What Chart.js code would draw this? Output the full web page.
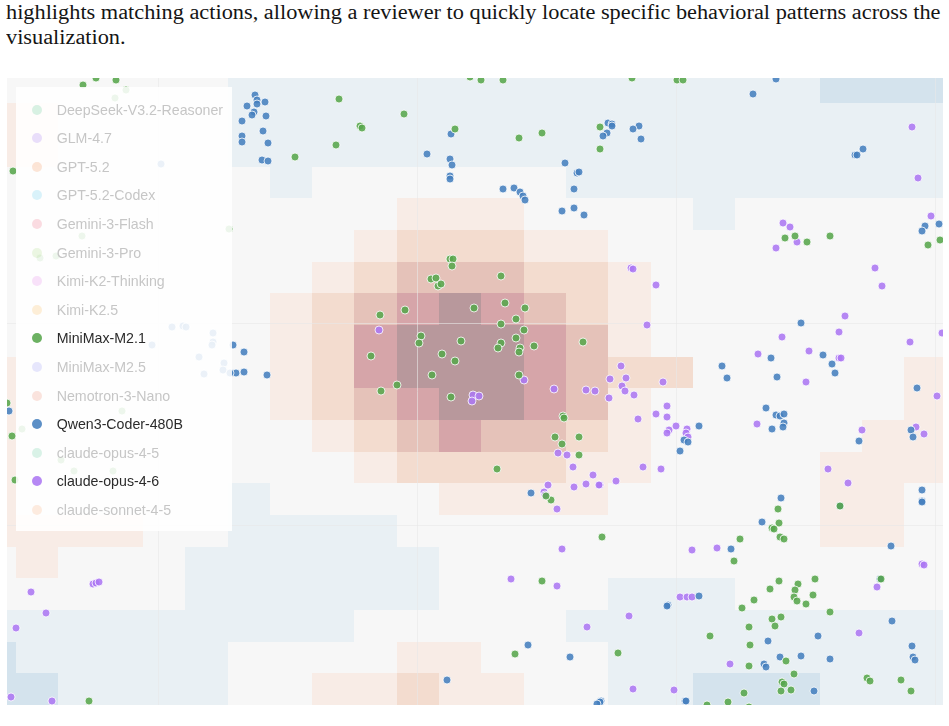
<!DOCTYPE html>
<html>
<head>
<meta charset="utf-8">
<script src="https://cdn.jsdelivr.net/npm/chart.js@4.4.1/dist/chart.umd.min.js"></script>
<style>
  html, body { margin: 0; padding: 0; background: #fff; }
  body { width: 949px; height: 726px; position: relative; overflow: hidden; }
  .para {
    position: absolute; left: 6px;
    font-family: "Liberation Serif", "Times New Roman", serif;
    font-size: 20px; line-height: 24px; color: #151515;
    white-space: nowrap; transform-origin: 0 0;
  }
  #chartBox { position: absolute; left: 7px; top: 78px; width: 936px; height: 627px; }
  #legend {
    position: absolute; left: 16px; top: 87px; width: 216px; height: 444px;
    background: rgba(255, 255, 255, 0.88); box-sizing: border-box; padding-top: 8.4px;
    font-family: "Liberation Sans", Arial, sans-serif; font-size: 14.2px;
  }
  .item { height: 28.6px; display: flex; align-items: center; }
  .dot { width: 10px; height: 10px; border-radius: 50%; margin-left: 16.3px; margin-right: 14.4px; flex: none; }
</style>
</head>
<body>
<div class="para" id="line1" style="top:0px">highlights matching actions, allowing a reviewer to quickly locate specific behavioral patterns across the</div>
<div class="para" id="line2" style="top:24.5px">visualization.</div>
<div id="chartBox"><canvas id="chart"></canvas></div>
<div id="legend"></div>
<script>
// series (legend order) and which ones are highlighted
const seriesNames = [
  'DeepSeek-V3.2-Reasoner', 'GLM-4.7', 'GPT-5.2', 'GPT-5.2-Codex', 'Gemini-3-Flash',
  'Gemini-3-Pro', 'Kimi-K2-Thinking', 'Kimi-K2.5', 'MiniMax-M2.1', 'MiniMax-M2.5',
  'Nemotron-3-Nano', 'Qwen3-Coder-480B', 'claude-opus-4-5', 'claude-opus-4-6', 'claude-sonnet-4-5'
];
const seriesColors = [
  '#4cc38a', '#9b6cf0', '#f08a4b', '#53c4ea', '#ea5b78',
  '#a5d47a', '#de78e2', '#f6b24a', '#58a64c', '#8c8cf0',
  '#e68166', '#4680be', '#52c490', '#ac78f3', '#f6a36c'
];
const activeSeries = ['MiniMax-M2.1', 'Qwen3-Coder-480B', 'claude-opus-4-6'];

// embedding coordinates [x, y]
const miniMaxM21Points = [
  [7.6,62.0],[8.9,62.7],[10.9,62.5],[11.9,61.5],[10.8,60.7],[0.6,53.4],[28.8,54.8],[7.5,46.9],[3.3,44.7],[4.9,44.9],[22.2,47.6],
  [46.3,62.8],[47.4,62.5],[49.6,62.5],[33.2,60.6],[39.7,59.1],[35.3,57.9],[35.5,57.7],[32.9,56.0],[44.8,57.6],[51.2,56.7],[53.5,57.2],[59.3,57.8],[59.3,55.6],
  [62.5,62.7],[67.0,62.5],[67.6,62.5],[77.8,46.7],[78.8,46.9],[80.0,46.3],[82.3,46.9],[92.1,46.0],[93.3,46.5],
  [77.1,19.6],[77.2,18.2],[76.5,17.7],[76.7,17.6],[77.3,16.8],[77.7,16.6],[73.3,16.6],[59.5,16.8],[83.3,19.9],
  [44.3,44.6],[44.6,44.6],[44.5,43.9],[49.4,42.9],[42.4,42.6],[42.9,42.7],[43.1,41.9],[43.4,42.1],
  [37.3,39.0],[39.8,39.5],[46.7,39.7],[49.8,40.2],[51.8,39.7],[50.9,38.6],[49.4,38.1],[51.7,37.5],
  [41.4,36.9],[41.2,36.2],[45.4,36.4],[50.9,36.7],[49.4,36.2],[49.1,35.7],[51.3,35.7],[51.2,35.3],[52.7,35.9],[57.6,36.3],
  [36.4,34.9],[43.5,35.1],[44.8,34.4],[42.5,33.0],[51.2,33.0],[39.0,32.0],[37.4,31.4],[44.4,30.8],
  [55.6,28.9],[55.7,28.7],[54.8,26.8],[55.5,26.1],[57.2,26.8],[57.2,25.0],[49.0,23.6],[54.4,20.5],[53.9,20.9],
  [0.0,30.2],[0.5,26.9],[0.8,22.5],[11.5,29.4],[1.5,27.6],[5.4,24.5],[6.7,23.4],[10.6,23.4],[8.2,0.4],
  [72.7,14.4],[53.5,12.4],[77.2,12.4],[79.1,12.1],[80.8,12.6],[76.3,11.6],[78.8,11.5],[78.7,10.8],[79.0,10.4],[80.6,11.0],[79.9,10.1],
  [74.7,10.5],[73.5,9.7],[82.3,9.3],[76.5,8.6],[77.4,8.8],[76.8,7.9],[74.2,7.8],[70.3,6.9],[74.3,6.0],[50.8,5.1],[61.1,5.2],
  [74.2,3.9],[77.9,4.4],[78.7,3.1],[77.5,2.3],[77.7,2.1],[77.4,1.4],[78.4,1.5],[73.7,1.2],[72.1,0.3],[70.0,0.0],[74.2,-0.2],
  [86.0,2.7],[86.3,2.4],[89.4,2.5],[90.4,1.4],[87.4,12.6]
];
const qwen3CoderPoints = [
  [24.8,61.0],[25.0,60.5],[25.0,60.1],[24.0,59.9],[25.8,60.3],[24.7,59.3],[24.5,59.0],[25.9,58.9],[23.5,58.4],[25.6,57.4],
  [23.5,56.9],[23.5,56.3],[26.1,56.2],[25.5,54.5],[26.1,54.4],[15.4,54.1],[17.6,37.9],
  [44.4,57.1],[42.0,55.1],[44.3,54.6],[44.5,54.0],[44.3,52.9],[44.3,52.6],[55.8,54.2],[57.0,53.2],[57.2,53.3],
  [60.1,58.2],[60.5,58.1],[60.5,57.9],[60.0,57.2],[59.6,56.9],[49.6,51.6],[50.7,51.7],[51.3,51.3],[51.6,50.9],[51.8,50.5],[56.7,51.6],
  [76.9,62.6],[74.6,61.1],[63.2,57.9],[62.6,57.6],[63.4,56.6],[84.8,55.0],[85.0,55.0],[85.6,55.6],[91.8,47.9],[91.5,47.4],[93.2,48.1],
  [79.4,38.2],[71.5,33.9],[72.0,32.7],[76.4,34.7],[77.0,32.8],[81.6,35.0],[82.5,34.1],[82.8,33.2],[91.0,31.7],
  [75.9,29.7],[76.9,29.0],[77.3,28.9],[77.7,29.1],[77.7,28.2],[77.6,27.8],[76.5,27.6],[69.2,27.9],[67.7,26.5],[68.1,26.3],[67.3,25.4],
  [85.2,26.4],[90.4,27.5],[90.6,26.8],[91.5,21.5],[91.5,20.4],[91.5,20.3],[83.3,19.9],[77.4,20.7],[75.5,18.3],
  [55.5,49.4],[56.7,49.7],[57.7,49.0],[52.4,21.2],
  [22.6,36.0],[23.7,35.3],[22.9,33.2],[23.7,33.3],[26.0,33.0],[0.2,29.4],
  [16.5,37.8],[17.9,37.8],[20.6,37.2],[20.6,36.3],[20.5,36.0],[14.5,36.0],[19.2,34.8],[21.7,34.2],[21.6,33.5],[19.7,33.1],[22.3,33.2],
  [44.0,2.5],[72.4,15.6],[88.4,15.9],[87.3,12.6],[66.1,10.0],[66.0,9.9],[69.2,10.9],[88.5,8.4],[81.1,6.9],[76.1,6.4],
  [52.1,6.0],[56.3,4.8],[77.3,4.8],[79.4,4.9],[82.3,4.6],[75.7,4.1],[75.9,3.8],[90.5,5.9],[90.6,4.8],[90.8,4.5],
  [80.7,1.4],[67.8,0.4],[67.9,0.4],[59.4,0.4],[59.3,0.3],[59.0,0.1]
];
const claudeOpus46Points = [
  [90.5,57.8],[91.1,52.7],[92.4,48.9],[77.6,48.2],[78.3,47.8],[79.0,46.3],[76.9,45.7],[86.8,43.7],[87.5,41.9],
  [62.4,43.7],[62.6,43.6],[64.9,42.0],[64.0,38.0],[83.8,38.9],[77.5,36.8],[83.2,37.3],[80.2,35.4],[75.1,35.1],
  [83.2,34.7],[83.4,34.7],[79.9,32.3],[90.3,36.3],[93.5,37.2],[93.0,30.9],
  [61.4,33.9],[60.3,32.6],[61.9,32.7],[61.5,31.9],[61.8,31.4],[62.7,31.0],[60.2,30.7],[65.6,32.3],[66.0,29.9],[64.9,29.1],
  [66.0,28.8],[63.1,28.6],[66.9,27.9],[66.2,27.5],[66.0,27.2],[68.0,27.6],[67.9,27.2],[68.1,26.8],[75.0,28.1],[85.5,27.5],
  [90.9,27.8],[91.7,27.1],[63.6,23.8],[65.4,23.6],[60.9,22.4],[59.3,22.0],[82.1,23.6],[84.1,22.2],
  [37.2,37.5],[51.7,32.5],[46.6,31.0],[47.2,30.9],[46.5,30.4],[54.7,31.6],[57.9,31.5],[58.8,31.4],
  [55.1,25.2],[56.0,25.0],[56.6,23.8],[58.6,23.0],[57.9,22.1],[59.2,22.0],[54.1,22.0],[53.7,21.3],[53.8,21.0],[56.7,21.8],[55.0,19.6],
  [2.4,11.3],[3.9,9.2],[0.9,7.7],[8.6,12.1],[8.9,12.2],[9.2,12.3],[0.4,0.8],[4.5,0.4],
  [55.5,15.6],[68.5,15.5],[71.0,15.7],[50.4,12.6],[55.0,11.9],[67.3,10.8],[68.0,10.8],[68.5,10.8],[62.2,8.9],[58.0,7.8],
  [85.2,7.2],[91.5,14.1],[91.7,14.0],[87.0,11.8],[72.3,4.1],[62.6,1.6],[66.7,1.5]
];
const seriesPoints = {
  'MiniMax-M2.1': miniMaxM21Points,
  'Qwen3-Coder-480B': qwen3CoderPoints,
  'claude-opus-4-6': claudeOpus46Points
};

// background density-difference grid (top row first); . neutral, b/B blue, o/O/r/p/m warm levels
const heatRows = [
  '......bbbbbbbbbbbbbbBBB',
  'oo....bbbbbbbbbbbbbbbbb',
  'oo....bbbbbbbbbbbbbbbbb',
  '.......b......bbbbbbbbb',
  '..........ooo....b.....',
  '.........oOOOoo........',
  '........oOrrrOOo.......',
  '.......oOrpmprOo.......',
  '.......oOpmmmpro.......',
  'o......oOpmmmprOO.....o',
  'o......oOrpmmpro......o',
  'o.......oOrprrOo.....oo',
  'o........oOOOOoo....ooo',
  'o.....b....oooo.....oo.',
  'oooo..bbbb..........oo.',
  '.o...bbbbbb............',
  '.....bbbbbb....bbb.....',
  'bbbbbbbbb.....bbbbbbbbb',
  'Bbbbbb....oo...bbbbbbbb',
  'BBbbbb..ooOoo..bbBBBbbb'
];
const heatColors = {
  '.': '#f7f7f7', 'b': '#e9f0f4', 'B': '#d4e3ed',
  'o': '#f8ece6', 'O': '#f3dccf', 'r': '#e5c2b9', 'p': '#d6a5a9', 'm': '#b8989c'
};
const heatX0 = -3.33, heatDx = 4.23, heatY0 = 0, heatDy = 3.167;

const xGridValues = [15.17, 41.03, 66.9, 92.8];
const yGridValues = [17.93, 38.15];

function hexToRgba(hex, a) {
  const n = parseInt(hex.slice(1), 16);
  return `rgba(${(n >> 16) & 255},${(n >> 8) & 255},${n & 255},${a})`;
}

const densityGrid = {
  id: 'densityGrid',
  beforeDraw(chart) {
    const { ctx, chartArea, scales: { x, y } } = chart;
    ctx.save();
    ctx.beginPath();
    ctx.rect(chartArea.left, chartArea.top, chartArea.width, chartArea.height);
    ctx.clip();
    const n = heatRows.length;
    heatRows.forEach((row, i) => {
      const r = n - 1 - i;
      const top = Math.round(y.getPixelForValue(heatY0 + (r + 1) * heatDy));
      const bottom = Math.round(y.getPixelForValue(heatY0 + r * heatDy));
      for (let k = 0; k < row.length; k++) {
        const left = Math.round(x.getPixelForValue(heatX0 + k * heatDx));
        const right = Math.round(x.getPixelForValue(heatX0 + (k + 1) * heatDx));
        ctx.fillStyle = heatColors[row[k]];
        ctx.fillRect(left, top, right - left, bottom - top);
      }
    });
    ctx.restore();
  }
};

const datasets = seriesNames.map((name, i) => {
  const on = activeSeries.includes(name);
  return {
    label: name,
    data: (seriesPoints[name] || []).map(([x, y]) => ({ x, y })),
    backgroundColor: hexToRgba(seriesColors[i], on ? 0.88 : 0.12),
    borderColor: on ? 'rgba(255,255,255,0.8)' : 'rgba(255,255,255,0.2)',
    borderWidth: 1,
    pointRadius: 4,
    pointHoverRadius: 4
  };
});

const chart = new Chart(document.getElementById('chart'), {
  type: 'scatter',
  data: { datasets },
  options: {
    responsive: true,
    maintainAspectRatio: false,
    animation: false,
    events: [],
    layout: { padding: 0, autoPadding: false },
    plugins: { legend: { display: false }, tooltip: { enabled: false } },
    scales: {
      x: {
        type: 'linear', min: 0, max: 93.6,
        afterBuildTicks: axis => { axis.ticks = xGridValues.map(v => ({ value: v })); },
        ticks: { display: false },
        border: { display: false },
        grid: { color: 'rgba(232,232,232,0.6)', lineWidth: 1, drawTicks: false }
      },
      y: {
        type: 'linear', min: 0, max: 62.7,
        afterBuildTicks: axis => { axis.ticks = yGridValues.map(v => ({ value: v })); },
        ticks: { display: false },
        border: { display: false },
        grid: { color: 'rgba(232,232,232,0.6)', lineWidth: 1, drawTicks: false }
      }
    }
  },
  plugins: [densityGrid]
});

// html legend built from the chart's datasets
const legendEl = document.getElementById('legend');
chart.data.datasets.forEach((ds, i) => {
  const on = activeSeries.includes(ds.label);
  const item = document.createElement('div');
  item.className = 'item';
  const dot = document.createElement('span');
  dot.className = 'dot';
  dot.style.background = hexToRgba(seriesColors[i], on ? 0.88 : 0.22);
  const txt = document.createElement('span');
  txt.textContent = ds.label;
  txt.style.color = on ? '#2b2b2b' : '#c6c6c6';
  item.appendChild(dot);
  item.appendChild(txt);
  legendEl.appendChild(item);
});

// stretch the justified first text line to the column width
const l1 = document.getElementById('line1');
const l2 = document.getElementById('line2');
const s = 935 / l1.scrollWidth;
l1.style.transform = `scaleX(${s})`;
l2.style.transform = `scaleX(${s})`;
</script>
</body>
</html>
